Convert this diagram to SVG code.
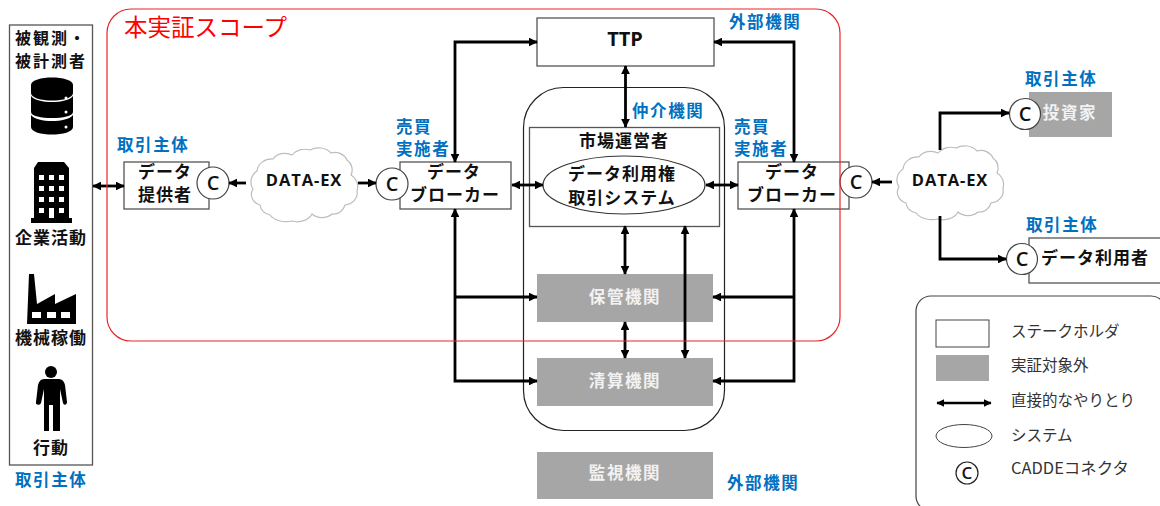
<svg xmlns="http://www.w3.org/2000/svg" width="1160" height="506" viewBox="0 0 1160 506">
<style>
text{font-family:"Noto Sans CJK JP","Noto Sans",sans-serif}
.b{font-size:17px;font-weight:700;fill:#111;text-anchor:middle;letter-spacing:1px}
.s{font-size:16px;font-weight:700;fill:#111;text-anchor:middle;letter-spacing:2px}
.l{font-size:16.5px;font-weight:700;fill:#0070c0;letter-spacing:1.6px}
.g{font-size:16.5px;font-weight:700;fill:#f2f2f2;text-anchor:middle;letter-spacing:1.6px}
.c{font-family:"Open Sans","Liberation Sans",sans-serif;font-size:20px;font-weight:600;fill:#111;text-anchor:middle}
.d{font-family:"Open Sans","Liberation Sans",sans-serif;font-size:16.5px;font-weight:700;fill:#111;text-anchor:middle;letter-spacing:.9px}
.t{font-size:15.5px;fill:#333}
.box{fill:#fff;stroke:#555;stroke-width:1.3}
.grey{fill:#a6a6a6}
.circ{fill:#fff;stroke:#444;stroke-width:1.2}
.w{fill:none;stroke:#000;stroke-width:2.8}
.ic{fill:#000}
</style>
<defs>
<marker id="a" markerWidth="3.2" markerHeight="3.2" refX="4.6" refY="2.5" orient="auto-start-reverse" markerUnits="strokeWidth" viewBox="0 0 5 5"><path d="M0,0 L5,2.5 L0,5 z" fill="#000"/></marker>
<path id="cloud" d="M7,42 A13,13 0 0 1 11,24 A15,13 0 0 1 27,12 A14,12 0 0 1 46,8 A15,12 0 0 1 64,3 A15,12 0 0 1 85,6 A13,12 0 0 1 101,13 A12,12 0 0 1 105,28 A12,13 0 0 1 111,44 A14,12 0 0 1 99,58 A12,12 0 0 1 86,67 A14,12 0 0 1 66,67 A16,13 0 0 1 46,74 A18,12 0 0 1 24,68 A14,12 0 0 1 14,58 A12,11 0 0 1 7,42 z" fill="#fff" stroke="#bdbdbd" stroke-width="1.2"/>
</defs>

<g id="broker-system-container"><rect x="523.5" y="87.5" width="201" height="343" rx="40" fill="#fff" stroke="#222" stroke-width="1.2"/></g>

<g id="observed">
<rect class="box" x="9.500" y="25" width="83" height="440"/>
<text class="s" x="51" y="44">被観測・</text>
<text class="s" x="51" y="67">被計測者</text>
<g class="ic">
<path d="M31,85C31,75 73,75 73,85V93C73,103 31,103 31,93z"/>
<path d="M31,96C37,104 67,104 73,96V112C73,120 31,120 31,112z"/>
<path d="M31,115C37,123 67,123 73,115V127C73,137 31,137 31,127z"/>
<circle cx="66" cy="98" r="1.500" fill="#fff"/><circle cx="66" cy="112" r="1.500" fill="#fff"/><circle cx="66" cy="127" r="1.500" fill="#fff"/>
</g>
<path class="ic" fill-rule="evenodd" d="M38,162H64L69,168V218H72V223H31V218H34V168z M39,175v5h5v-5z M49,175v5h5v-5z M59,175v5h5v-5z M39,186v5h5v-5z M49,186v5h5v-5z M59,186v5h5v-5z M39,197v5h5v-5z M49,197v5h5v-5z M59,197v5h5v-5z M39,208v5h5v-5z M49,208v10h5v-10z M59,208v5h5v-5z"/>
<text class="b" x="51" y="244">企業活動</text>
<path class="ic" fill-rule="evenodd" d="M29,274H34L37,304L55,294V304L76,294V324H27z M32,312v6h9v-6z M47,312v6h9v-6z M61,312v6h9v-6z"/>
<text class="b" x="51" y="344">機械稼働</text>
<circle class="ic" cx="51" cy="372" r="6"/>
<path class="ic" d="M44,379H58C62,379 64,381 65,385L67,402C67,405 64,406 63,403L60,389V431H53V405H49V431H44V389L41,403C40,406 35,405 36,402L38,385C39,381 41,379 44,379z"/>
<text class="b" x="51" y="454">行動</text>
</g>
<text class="l" x="15" y="486">取引主体</text>

<g id="provider">
<text class="l" x="117" y="151">取引主体</text>
<rect class="box" x="124" y="162" width="85" height="47"/>
<text class="b" x="165" y="178">データ</text>
<text class="b" x="165" y="201">提供者</text>
<circle class="circ" cx="213" cy="183" r="16"/><text class="c" x="213" y="190">C</text>
</g>

<g id="cloud-left"><use href="#cloud" x="246" y="147"/><text class="d" x="304" y="186">DATA-EX</text></g>

<g id="broker-left">
<text class="l" x="396" y="133">売買</text>
<text class="l" x="396" y="155">実施者</text>
<rect class="box" x="400" y="162" width="111" height="47"/>
<text class="b" x="454" y="178">データ</text>
<text class="b" x="455" y="201">ブローカー</text>
<circle class="circ" cx="392" cy="184" r="16"/><text class="c" x="392" y="191">C</text>
</g>

<g id="ttp"><rect class="box" x="537" y="18" width="177" height="48"/><text x="625" y="46" font-size="20" font-weight="700" fill="#111" text-anchor="middle" style="font-family:'Open Sans','Liberation Sans',sans-serif">TTP</text></g>
<text class="l" x="632" y="117">仲介機関</text>
<text class="l" x="729" y="28">外部機関</text>

<g id="market">
<rect class="box" x="529.500" y="127.500" width="190" height="99"/>
<text class="b" x="624" y="147">市場運営者</text>
<ellipse cx="624" cy="185" rx="81" ry="29" fill="#fff" stroke="#333" stroke-width="1.200"/>
<text class="b" x="622" y="180">データ利用権</text>
<text class="b" x="622" y="204">取引システム</text>
</g>

<g id="broker-right">
<text class="l" x="734" y="133">売買</text>
<text class="l" x="734" y="155">実施者</text>
<rect class="box" x="738" y="162" width="111" height="47"/>
<text class="b" x="792" y="178">データ</text>
<text class="b" x="792" y="201">ブローカー</text>
<circle class="circ" cx="856" cy="182" r="16"/><text class="c" x="856" y="189">C</text>
</g>

<g id="custody"><rect class="grey" x="537" y="274" width="176" height="48"/><text class="g" x="625" y="303">保管機関</text></g>
<g id="clearing"><rect class="grey" x="537" y="358" width="176" height="48"/><text class="g" x="625" y="387">清算機関</text></g>
<g id="surveillance"><rect class="grey" x="537" y="452" width="176" height="47"/><text class="g" x="625" y="479">監視機関</text></g>
<text class="l" x="727" y="489">外部機関</text>

<g id="cloud-right"><use href="#cloud" x="892" y="145"/><text class="d" x="950" y="186">DATA-EX</text></g>

<g id="investor">
<text class="l" x="1025" y="85">取引主体</text>
<rect class="grey" x="1029" y="92" width="83" height="45"/>
<text class="g" x="1070" y="119">投資家</text>
<circle class="circ" cx="1025" cy="114" r="15.500"/><text class="c" x="1025" y="121">C</text>
</g>

<g id="data-user">
<text class="l" x="1026" y="231">取引主体</text>
<rect class="box" x="1029" y="238" width="140" height="45"/>
<text class="b" x="1095" y="264">データ利用者</text>
<circle class="circ" cx="1022" cy="259" r="15.500"/><text class="c" x="1022" y="266">C</text>
</g>

<g id="legend">
<rect x="916" y="296" width="250" height="215" rx="15" fill="#fff" stroke="#444" stroke-width="1.200"/>
<rect x="936" y="320" width="53" height="27" fill="#fff" stroke="#444" stroke-width="1"/>
<text class="t" x="1011" y="337">ステークホルダ</text>
<rect class="grey" x="936" y="355" width="53" height="26"/>
<text class="t" x="1011" y="371">実証対象外</text>
<path class="w" marker-start="url(#a)" marker-end="url(#a)" d="M937,403H991" style="stroke-width:2.400"/>
<text class="t" x="1011" y="406">直接的なやりとり</text>
<ellipse cx="964" cy="436" rx="28" ry="11.500" fill="#fff" stroke="#444" stroke-width="1"/>
<text class="t" x="1011" y="441">システム</text>
<circle cx="967" cy="473" r="11" fill="#fff" stroke="#222" stroke-width="1.200"/><text class="c" x="967" y="479" style="font-size:17px">C</text>
<text class="t" x="1011" y="474" textLength="118" lengthAdjust="spacingAndGlyphs">CADDEコネクタ</text>
</g>

<g id="connectors">
<path class="w" marker-start="url(#a)" marker-end="url(#a)" d="M93,186H124"/>
<path class="w" marker-end="url(#a)" d="M246,183H229"/>
<path class="w" marker-end="url(#a)" d="M358,183H376"/>
<path class="w" marker-start="url(#a)" marker-end="url(#a)" d="M455,162V42H537"/>
<path class="w" marker-start="url(#a)" marker-end="url(#a)" d="M455,209V381H537"/>
<path class="w" marker-end="url(#a)" d="M455,297H537"/>
<path class="w" marker-start="url(#a)" marker-end="url(#a)" d="M512,185H543"/>
<path class="w" marker-start="url(#a)" marker-end="url(#a)" d="M625.500,66V127"/>
<path class="w" marker-start="url(#a)" marker-end="url(#a)" d="M706,185H738"/>
<path class="w" marker-start="url(#a)" marker-end="url(#a)" d="M794,162V42H714"/>
<path class="w" marker-start="url(#a)" marker-end="url(#a)" d="M794,209V381H713"/>
<path class="w" marker-end="url(#a)" d="M794,297H713"/>
<path class="w" marker-start="url(#a)" marker-end="url(#a)" d="M625,226V274"/>
<path class="w" marker-start="url(#a)" marker-end="url(#a)" d="M625,322V358"/>
<path class="w" marker-start="url(#a)" marker-end="url(#a)" d="M685,226V358"/>
<path class="w" marker-end="url(#a)" d="M892,182H872"/>
<path class="w" marker-end="url(#a)" d="M940,150V113H1009"/>
<path class="w" marker-end="url(#a)" d="M940,216V259H1006"/>
</g>

<rect id="scope" x="107" y="9" width="733" height="332" rx="24" fill="none" stroke="#e8262a" stroke-width="1.200"/>
<text x="124" y="36" font-size="23.500" fill="#f00">本実証スコープ</text>
</svg>
